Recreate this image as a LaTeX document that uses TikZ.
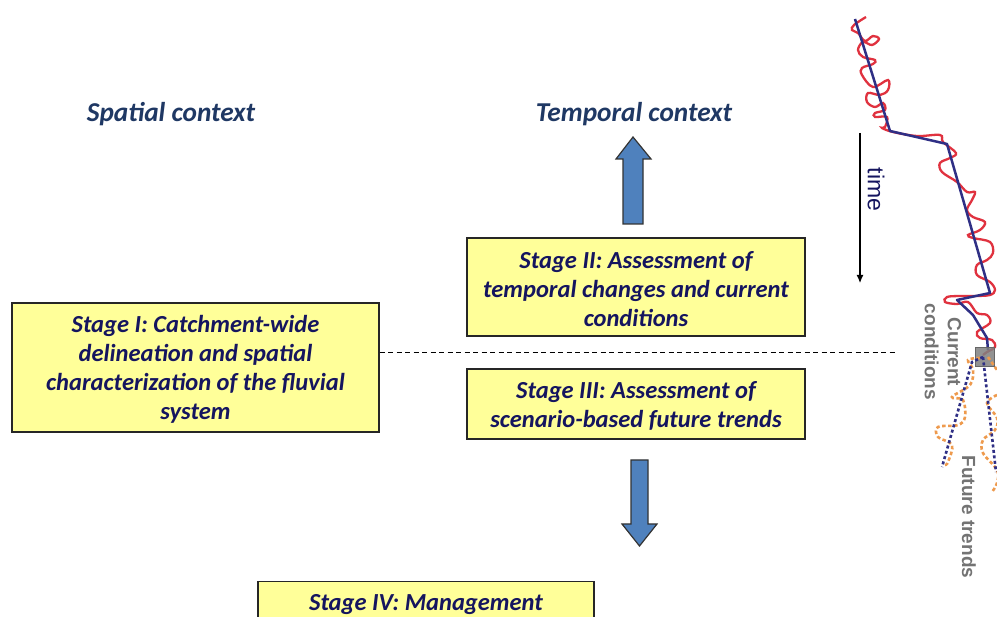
\documentclass[tikz,border=0pt]{standalone}
\usepackage{fontspec}
\usetikzlibrary{arrows.meta}
\setmainfont{Carlito}
\newfontfamily\labelsans{Liberation Sans}
\definecolor{stageink}{HTML}{15155F}
\definecolor{contextink}{HTML}{1F3864}
\definecolor{stagefill}{HTML}{FFFF99}
\definecolor{blockblue}{HTML}{4F81BD}
\definecolor{curvered}{HTML}{E0323F}
\definecolor{curveblue}{HTML}{2F2F85}
\definecolor{futureorange}{HTML}{EE9A4D}
\tikzset{
  stagebox/.style={draw=black!85,line width=1.2pt,fill=stagefill,inner sep=0pt,align=center,
    text=stageink,font=\fontsize{24.5}{29}\selectfont\bfseries\itshape},
  contextlabel/.style={text=contextink,font=\fontsize{27.3}{30}\selectfont\bfseries\itshape},
  blockarrow/.style={draw=black!80,line width=1.2pt,fill=blockblue,line join=miter},
  sidelabel/.style={text=black!55,rotate=-90,font=\fontsize{19}{23}\selectfont\labelsans\bfseries,align=center},
  redtrace/.style={curvered,line width=2.3pt,smooth,tension=0.6},
  bluetrend/.style={curveblue,line width=2.5pt,line join=round},
  bluefuture/.style={curveblue,line width=2.6pt,dash pattern=on 3pt off 2.5pt},
  orangefuture/.style={futureorange,line width=2.6pt,dash pattern=on 3.5pt off 2.5pt,smooth,tension=0.6},
}
\begin{document}
\begin{tikzpicture}[x=1pt,y=-1pt]
\useasboundingbox (0,0) rectangle (997,617);
\clip (0,0) rectangle (997,617);
\fill[white] (0,0) rectangle (997,617);

\node[contextlabel] (spatial) at (171,114) {Spatial context};
\node[contextlabel] (temporal) at (634,114) {Temporal context};

\node[stagebox,minimum width=367pt,minimum height=129pt] (stageI) at (195.5,367.5)
  {\parbox{360pt}{\vspace*{4pt}\centering Stage I: Catchment-wide\\delineation and spatial\\characterization of the fluvial\\system}};
\node[stagebox,minimum width=338pt,minimum height=98pt] (stageII) at (636,287)
  {\parbox{330pt}{\vspace*{4pt}\centering Stage II: Assessment of\\temporal changes and current\\conditions}};
\node[stagebox,minimum width=338pt,minimum height=70pt] (stageIII) at (636,404)
  {\parbox{330pt}{\vspace*{4pt}\centering Stage III: Assessment of\\scenario-based future trends}};
\node[stagebox,minimum width=336pt,minimum height=46pt,anchor=north] (stageIV) at (426,581)
  {Stage IV: Management};

\draw[blockarrow] (623,224) -- (623,159) -- (616,159) -- (633,137) -- (651,159) -- (643,159) -- (643,224) -- cycle;
\draw[blockarrow] (631,460) -- (631,524) -- (622,524) -- (639.5,546) -- (657,524) -- (648,524) -- (648,460) -- cycle;

\coordinate (dashend) at (897,352.5);
\draw[black,line width=1.3pt,dash pattern=on 5pt off 3.5pt] (stageI.east |- dashend) -- (dashend);

% time arrow
\coordinate (timetop) at (860,133);
\coordinate (timebottom) at (860,283);
\draw[black,line width=1.1pt,-{Latex[length=8pt,width=7pt]}] (timetop) -- (timebottom);
\node[rotate=-90,text=stageink,font=\fontsize{23}{24}\selectfont\labelsans] (timelabel) at (876,189.5) {time};

% observed trace
\draw[redtrace] plot coordinates {
(866,17)(854,25)(852,30)(858,33)(865,41)(873,36)(879,39)(872,45)(863,42)(858,50)(863,57)(875,60)(873,64)(862,68)(862,75)(873,87)(888,80)(888,90)(880,95)(868,93)(867,102)(875,107)(883,103)(885,110)(875,113)(875,117)(887,117)(885,127)(882,128)(893,132)(917,136)(940,135)(943,142)(956,153)(950,158)(940,163)(942,172)(957,182)(967,192)(975,192)(972,200)(967,210)(973,217)(985,222)(980,230)(968,235)(973,238)(990,242)(993,253)(987,260)(977,265)(977,275)(990,282)(995,290)(990,295)(975,296)(960,296)(947,297)(945,302)(957,304)(968,302)(977,313)(987,315)(990,323)(977,332)(980,338)(992,340)(995,347)(987,352)(983,355)};
\draw[bluetrend] (855,19) -- (890,131) -- (947,144) -- (990,293) -- (957,300) -- (973,315) -- (987,338) -- (988,350);

% current-conditions marker
\fill[black!50,draw=black!60,line width=0.6pt,fill opacity=0.85] (975,347) rectangle (994,366);

% future scenarios
\draw[orangefuture] plot coordinates {(980,358)(968,360)(973,370)(970,385)(952,397)(963,400)(965,417)(958,425)(938,427)(938,437)(952,445)(948,462)(945,465)};
\draw[orangefuture] plot coordinates {(988,357)(997,370)};
\draw[orangefuture] plot coordinates {(997,395)(987,403)(997,418)(995,430)(983,440)(983,453)(997,470)(997,483)(992,492)};
\coordinate (split) at (983,357);
\coordinate (leftfuture) at (942,467);
\coordinate (rightfuture) at (996,472);
\draw[bluefuture] (split) -- (972,362) -- (leftfuture);
\draw[bluefuture] (split) -- (rightfuture);

\node[sidelabel] (currentlabel) at (943,352) {Current\\conditions};
\node[sidelabel] (futurelabel) at (969,517) {Future trends};
\end{tikzpicture}
\end{document}
